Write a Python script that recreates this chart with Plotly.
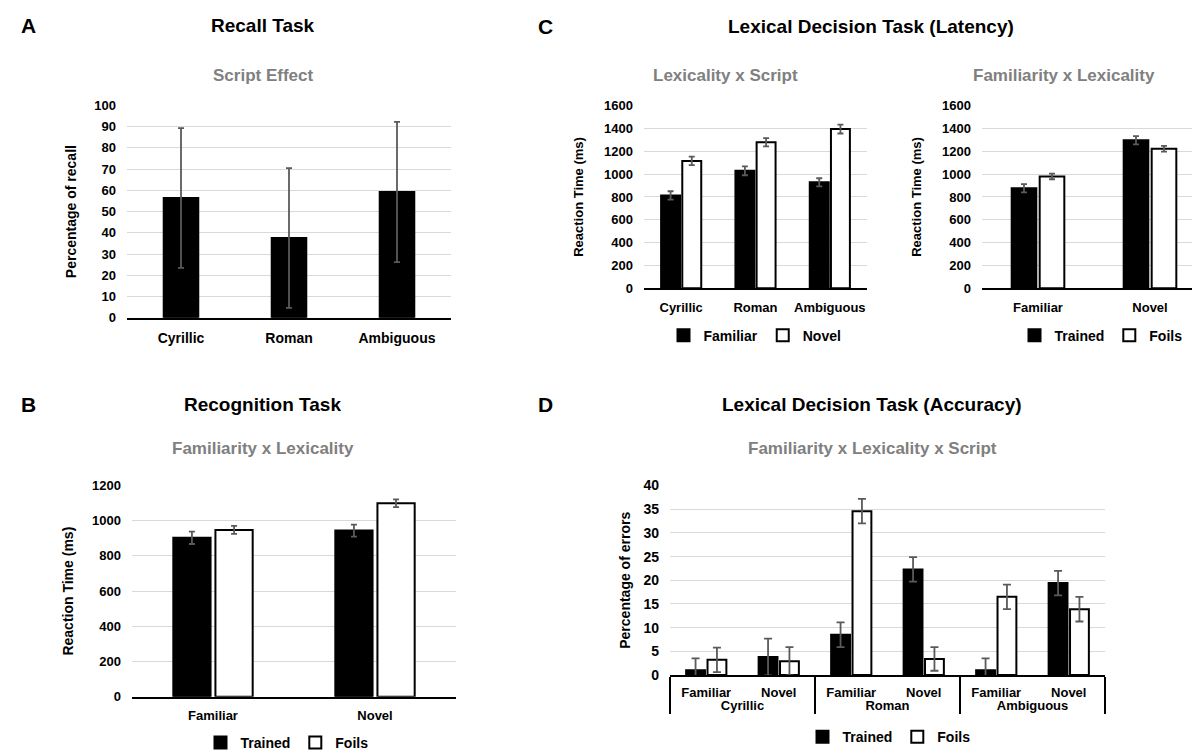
import plotly.graph_objects as go

W, H = 1200, 751

# ---------------- data ----------------
# Panel A: Recall task
recall_scripts = ["Cyrillic", "Roman", "Ambiguous"]
recall_pct = [56.4, 37.6, 59.2]
recall_err = [32.9, 32.9, 33.0]

# Panel B: Recognition task
recog_fam = ["Familiar", "Novel"]
recog_trained = [903, 944]
recog_trained_err = [35, 34]
recog_foils = [948, 1099]
recog_foils_err = [23, 22]

# Panel C (left): Lexicality x Script
lat_scripts = ["Cyrillic", "Roman", "Ambiguous"]
lat_familiar = [813, 1029, 928]
lat_familiar_err = [37, 39, 36]
lat_novel = [1116, 1280, 1395]
lat_novel_err = [37, 36, 39]

# Panel C (right): Familiarity x Lexicality
lat_fam_cats = ["Familiar", "Novel"]
lat_trained = [876, 1297]
lat_trained_err = [36, 36]
lat_foils = [980, 1222]
lat_foils_err = [25, 25]

# Panel D: Accuracy
acc_scripts = ["Cyrillic", "Cyrillic", "Roman", "Roman", "Ambiguous", "Ambiguous"]
acc_fam = ["Familiar", "Novel", "Familiar", "Novel", "Familiar", "Novel"]
acc_trained = [1.0, 3.8, 8.5, 22.3, 1.0, 19.4]
acc_trained_err = [2.5, 3.9, 2.6, 2.6, 2.5, 2.6]
acc_foils = [3.2, 2.9, 34.6, 3.4, 16.5, 13.9]
acc_foils_err = [2.6, 3.0, 2.6, 2.5, 2.6, 2.6]

# ---------------- styling ----------------
FONT = "Liberation Sans, Arial, sans-serif"
ERR = "#5a5a5a"
GRID = "#d9d9d9"
SUB = "#808080"


def xd(a, b):
    return [a / W, b / W]


def yd(top, bottom):
    return [1 - bottom / H, 1 - top / H]


def bar(x, y, err, fill, xa, ya, width, offset, name=None, legend=None, errw=3):
    return go.Bar(
        x=x, y=y, xaxis=xa, yaxis=ya, width=width, offset=offset,
        marker=dict(color=fill, line=dict(color="black", width=2)),
        error_y=dict(type="data", array=err, color=ERR, thickness=1.8, width=errw),
        name=name, legend=legend, showlegend=name is not None,
    )


fig = go.Figure()

# Panel A
fig.add_trace(bar(recall_scripts, recall_pct, recall_err, "black", "x", "y", 0.32, -0.16))

# Panel B
wb, gb = 0.23, 0.03
fig.add_trace(bar(recog_fam, recog_trained, recog_trained_err, "black", "x2", "y2",
                  wb, -wb - gb / 2, "Trained", "legend"))
fig.add_trace(bar(recog_fam, recog_foils, recog_foils_err, "white", "x2", "y2",
                  wb, gb / 2, "Foils", "legend"))

# Panel C left
wc, gc = 0.255, 0.03
fig.add_trace(bar(lat_scripts, lat_familiar, lat_familiar_err, "black", "x3", "y3",
                  wc, -wc - gc / 2, "Familiar", "legend2"))
fig.add_trace(bar(lat_scripts, lat_novel, lat_novel_err, "white", "x3", "y3",
                  wc, gc / 2, "Novel", "legend2"))

# Panel C right
wr, gr = 0.22, 0.03
fig.add_trace(bar(lat_fam_cats, lat_trained, lat_trained_err, "black", "x4", "y4",
                  wr, -wr - gr / 2, "Trained", "legend3"))
fig.add_trace(bar(lat_fam_cats, lat_foils, lat_foils_err, "white", "x4", "y4",
                  wr, gr / 2, "Foils", "legend3"))

# Panel D
wdd, gdd = 0.26, 0.035
fig.add_trace(bar([acc_scripts, acc_fam], acc_trained, acc_trained_err, "black", "x5", "y5",
                  wdd, -wdd - gdd / 2, "Trained", "legend4", errw=4))
fig.add_trace(bar([acc_scripts, acc_fam], acc_foils, acc_foils_err, "white", "x5", "y5",
                  wdd, gdd / 2, "Foils", "legend4", errw=4))


def yaxis(dom, rng, dtick, title, tsize, titlesize, standoff, anchor):
    return dict(
        domain=dom, range=rng, dtick=dtick, anchor=anchor,
        showgrid=True, gridcolor=GRID, gridwidth=1, zeroline=False, showline=False,
        ticks="", ticklabelstandoff=10,
        tickfont=dict(size=tsize, weight="bold", color="black"),
        title=dict(text=title, font=dict(size=titlesize, weight="bold", color="black"),
                   standoff=standoff),
        fixedrange=True,
    )


def xaxis(dom, n, tsize, anchor, standoff=6, **kw):
    d = dict(
        domain=dom, range=[-0.5, n - 0.5], anchor=anchor,
        showline=True, linecolor="black", linewidth=2, showgrid=False, zeroline=False,
        ticks="", ticklabelstandoff=standoff,
        tickfont=dict(size=tsize, weight="bold", color="black"),
        fixedrange=True,
    )
    d.update(kw)
    return d


def legend(cx, cy):
    return dict(
        orientation="h", x=cx / W, y=1 - cy / H, xanchor="center", yanchor="middle",
        font=dict(size=14, weight="bold", color="black"), itemwidth=30,
        bgcolor="rgba(0,0,0,0)", traceorder="normal",
    )


def ann(text, cx, cy, size, color="black"):
    return dict(
        text=text, x=cx / W, y=1 - cy / H, xref="paper", yref="paper",
        xanchor="center", yanchor="middle", showarrow=False,
        font=dict(size=size, color=color, weight="bold", family=FONT),
    )


fig.update_layout(
    width=W, height=H, margin=dict(l=0, r=0, t=0, b=0),
    template="none", paper_bgcolor="white", plot_bgcolor="white",
    font=dict(family=FONT, color="black"),
    barmode="overlay",
    xaxis=xaxis(xd(119, 443), 3, 14, "y"),
    yaxis=yaxis(yd(98.7, 314), [0, 100], 10, "Percentage of recall", 13, 14, 14, "x"),
    xaxis2=xaxis(xd(124, 448), 2, 13, "y2"),
    yaxis2=yaxis(yd(484, 698), [0, 1200], 200, "Reaction Time (ms)", 13, 14, 15, "x2"),
    xaxis3=xaxis(xd(636, 859), 3, 13, "y3"),
    yaxis3=yaxis(yd(99, 284), [0, 1600], 200, "Reaction Time (ms)", 13, 13, 17, "x3"),
    xaxis4=xaxis(xd(974, 1198), 2, 13, "y4"),
    yaxis4=yaxis(yd(99, 284), [0, 1600], 200, "Reaction Time (ms)", 13, 13, 17, "x4"),
    xaxis5=xaxis(xd(662, 1097), 6, 13, "y5", standoff=4, type="multicategory",
                 showdividers=True, dividercolor="black", dividerwidth=2),
    yaxis5=yaxis(yd(484, 676), [0, 40], 5, "Percentage of errors", 14, 14, 9, "x5"),
    legend=legend(279, 745),
    legend2=legend(747, 332),
    legend3=legend(1093, 332),
    legend4=legend(881, 739),
    annotations=[
        ann("A", 20, 18, 21),
        ann("Recall Task", 255, 18, 19),
        ann("Script Effect", 255, 68, 17, SUB),
        ann("B", 20, 402, 21),
        ann("Recognition Task", 254, 402, 19),
        ann("Familiarity x Lexicality", 255, 446, 17, SUB),
        ann("C", 537, 19, 21),
        ann("Lexical Decision Task (Latency)", 863, 19, 19),
        ann("Lexicality x Script", 717, 68, 17, SUB),
        ann("Familiarity x Lexicality", 1056, 68, 17, SUB),
        ann("D", 537, 402, 21),
        ann("Lexical Decision Task (Accuracy)", 864, 402, 19),
        ann("Familiarity x Lexicality x Script", 864, 446, 17, SUB),
    ],
)

fig.write_html("out.html")
